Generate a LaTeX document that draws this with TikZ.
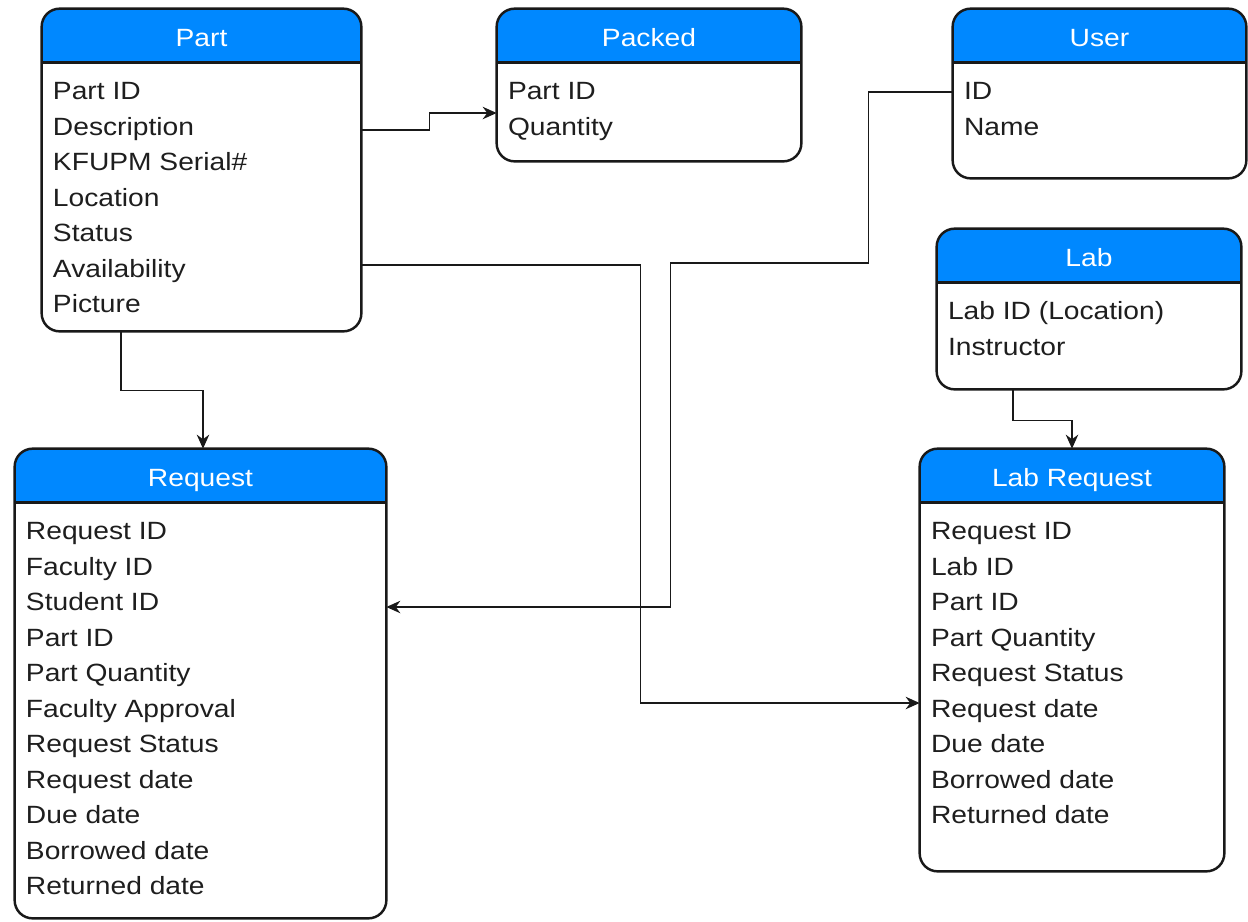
\documentclass[tikz,border=0pt]{standalone}
\usepackage{fontspec}
\setmainfont[FakeStretch=1.13]{Liberation Sans}
\usetikzlibrary{arrows.meta,fit}

\definecolor{hdrblue}{RGB}{0,136,255}
\definecolor{rowgray}{RGB}{30,30,30}

% one table: name, left, top, right, bottom, title, rows
\newcommand{\entity}[7]{%
  \node[inner sep=0pt, fit={(#2,#3) (#4,#5)}] (#1) {};
  \begin{scope}
    \clip[rounded corners=0.36cm] (#1.north west) rectangle (#1.south east);
    \fill[hdrblue] (#1.north west) rectangle ([yshift=-1.08cm]#1.north east);
  \end{scope}
  \draw[boxline] ([yshift=-1.08cm]#1.north west) -- ([yshift=-1.08cm]#1.north east);
  \draw[boxline, rounded corners=0.36cm] (#1.north west) rectangle (#1.south east);
  \node[titletext, anchor=base] (#1-title) at ([yshift=-0.75cm]#1.north) {#6};
  \foreach \row [count=\i] in {#7}
    \node[rowtext, anchor=base west] (#1-row\i) at ([xshift=0.22cm, yshift={-1.82cm-(\i-1)*0.71cm}]#1.north west) {\row};
}

\begin{document}
\begin{tikzpicture}[x=0.02cm, y=-0.02cm,
    boxline/.style={line width=1.4pt, black!90},
    titletext/.style={text=white, inner sep=0pt, font=\fontsize{14.2}{17}\selectfont},
    rowtext/.style={text=rowgray, inner sep=0pt, font=\fontsize{14.2}{17}\selectfont},
    conn/.style={line width=0.85pt, black!90, -{Stealth[length=0.28cm, width=0.25cm]}}]

\useasboundingbox (0,0) rectangle (1248,921);

% Tables
\entity{part}{42}{9}{361}{331}{Part}{Part ID, Description, KFUPM Serial\#, Location, Status, Availability, Picture}
\entity{packed}{497}{9}{801}{161}{Packed}{Part ID, Quantity}
\entity{user}{953}{9}{1246}{178}{User}{ID, Name}
\entity{lab}{937}{229}{1241}{389}{Lab}{Lab ID (Location), Instructor}
\entity{request}{15}{449}{386}{918}{Request}{Request ID, Faculty ID, Student ID, Part ID, Part Quantity, Faculty Approval, Request Status, Request date, Due date, Borrowed date, Returned date}
\entity{labreq}{920}{449}{1224}{871}{Lab Request}{Request ID, Lab ID, Part ID, Part Quantity, Request Status, Request date, Due date, Borrowed date, Returned date}

% Connectors
\draw[conn] (part.east |- 0,130) -- ++(68,0) |- (packed.west |- 0,113);
\draw[conn] (part.south -| 121,0) -- ++(0,59) -| (request.north -| 203,0);
\draw[conn] (user.west |- 0,92) -- ++(-84,0) -- ++(0,171) -- ++(-198,0) |- (request.east |- 0,607);
\draw[conn] (part.east |- 0,265) -- ++(279,0) |- (labreq.west |- 0,703);
\draw[conn] (lab.south -| 1013,0) -- ++(0,31) -| (labreq.north);

\end{tikzpicture}
\end{document}
